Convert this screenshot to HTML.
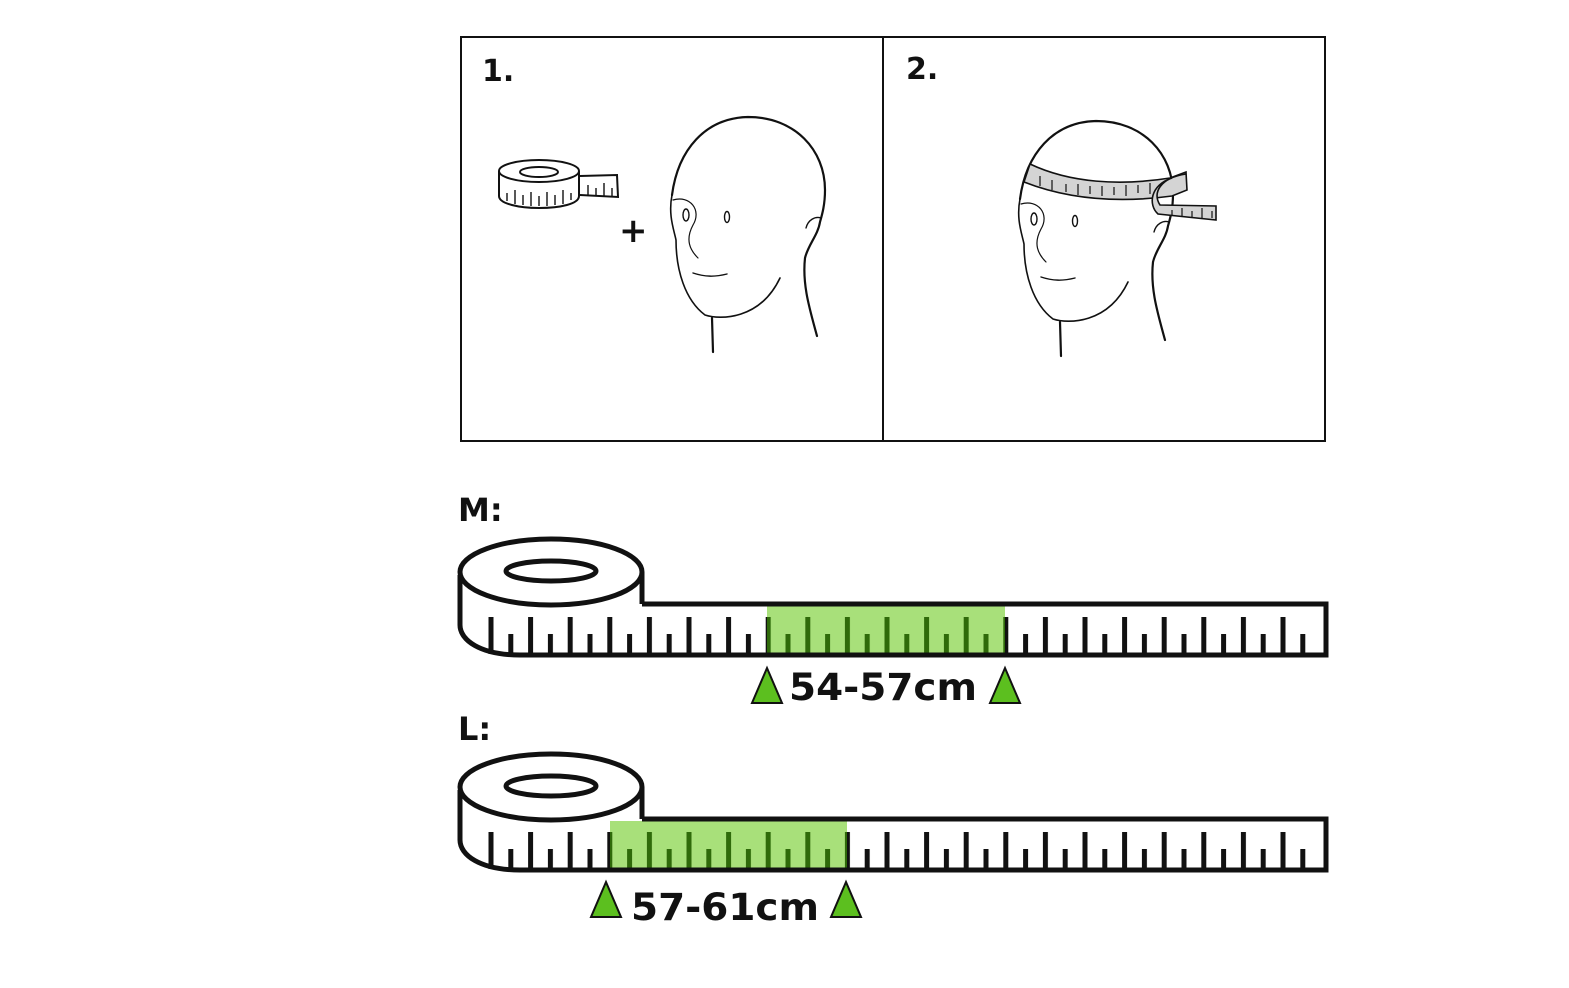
<!DOCTYPE html>
<html><head><style>
html,body{margin:0;padding:0;background:#fff;}
svg{display:block;}
text{font-family:"DejaVu Sans","Liberation Sans",sans-serif;font-weight:bold;fill:#111;}
</style></head><body>
<svg width="1569" height="988" viewBox="0 0 1569 988" xmlns="http://www.w3.org/2000/svg">
<defs>
<g id="head" fill="none" stroke="#111" stroke-width="2.2" stroke-linecap="round">
  <path d="M672,195 C678,150 705,118 748,117 C795,117 825,150 825,190 C825,205 822,215 820,222 C818,235 808,245 805,258 C802,285 810,310 817,336"/>
  <path d="M672,195 C668,215 674,230 676,240 C676,270 685,300 705,315 C720,320 760,320 780,278" stroke-width="1.6"/>
  <path d="M712,318 L713,352"/>
  <path d="M673,200 C690,195 702,210 693,225 C685,240 690,250 698,258" stroke-width="1.2"/>
  <ellipse cx="686" cy="215" rx="3" ry="6" stroke-width="1.4"/>
  <ellipse cx="727" cy="217" rx="2.5" ry="5.5" stroke-width="1.4"/>
  <path d="M693,273 C705,277 715,277 727,274" stroke-width="1.4"/>
  <path d="M806,228 C808,220 815,216 821,218" stroke-width="1.4"/>
</g>
<pattern id="ticks" patternUnits="userSpaceOnUse" x="488.5" y="0" width="39.6" height="988">
  <rect x="0" y="617" width="5" height="37" fill="#111"/>
  <rect x="19.8" y="634" width="5" height="20" fill="#111"/>
</pattern>
<pattern id="ticksG" patternUnits="userSpaceOnUse" x="488.5" y="0" width="39.6" height="988">
  <rect x="0" y="617" width="5" height="37" fill="#2f6a0a"/>
  <rect x="19.8" y="634" width="5" height="20" fill="#2f6a0a"/>
</pattern>
<pattern id="ticksL" patternUnits="userSpaceOnUse" x="488.5" y="0" width="39.6" height="988">
  <rect x="0" y="832" width="5" height="37" fill="#111"/>
  <rect x="19.8" y="849" width="5" height="20" fill="#111"/>
</pattern>
<pattern id="ticksLG" patternUnits="userSpaceOnUse" x="488.5" y="0" width="39.6" height="988">
  <rect x="0" y="832" width="5" height="37" fill="#2f6a0a"/>
  <rect x="19.8" y="849" width="5" height="20" fill="#2f6a0a"/>
</pattern>
</defs>

<rect x="461" y="37" width="864" height="404" fill="none" stroke="#111" stroke-width="2"/>
<line x1="883" y1="37" x2="883" y2="441" stroke="#111" stroke-width="2"/>
<text x="482" y="81" font-size="30">1.</text>
<text x="906" y="79" font-size="30">2.</text>

<g fill="none" stroke="#111" stroke-width="2">
  <path d="M580,176 L617,175 L618,197 L580,195"/>
  <ellipse cx="539" cy="171" rx="40" ry="11" fill="#fff"/>
  <ellipse cx="539" cy="172" rx="19" ry="5"/>
  <path d="M499,171 L499,196 C499,204 520,208 539,208 C560,208 579,204 579,196 L579,171"/>
</g>
<g stroke="#111" stroke-width="1.4">
  <line x1="507" y1="193" x2="507" y2="201"/><line x1="515" y1="190" x2="515" y2="204"/><line x1="523" y1="195" x2="523" y2="205"/><line x1="531" y1="192" x2="531" y2="206"/><line x1="539" y1="196" x2="539" y2="206"/><line x1="547" y1="192" x2="547" y2="206"/><line x1="555" y1="195" x2="555" y2="205"/><line x1="563" y1="190" x2="563" y2="204"/><line x1="571" y1="193" x2="571" y2="200"/>
  <line x1="588" y1="185" x2="588" y2="196"/><line x1="596" y1="188" x2="596" y2="196"/><line x1="604" y1="183" x2="604" y2="196"/><line x1="612" y1="188" x2="612" y2="196"/>
</g>
<text x="619" y="242" font-size="34">+</text>

<use href="#head"/>
<use href="#head" transform="translate(348,4)"/>

<g stroke="#111" stroke-width="1.6">
  <path d="M1030,164 C1070,183 1120,186 1170,178 L1186,172 L1187,190 L1172,196 C1120,203 1070,200 1024,182 Z" fill="#d4d4d4"/>
  <path d="M1186,174 C1160,178 1152,193 1160,205 L1216,206 L1216,220 L1158,214 C1148,205 1150,185 1172,178" fill="#d4d4d4"/>
  <g stroke-width="1.2">
    <line x1="1040" y1="176" x2="1040" y2="186"/><line x1="1052" y1="180" x2="1052" y2="190"/><line x1="1066" y1="184" x2="1066" y2="192"/><line x1="1078" y1="184" x2="1078" y2="195"/><line x1="1090" y1="186" x2="1090" y2="194"/><line x1="1102" y1="186" x2="1102" y2="196"/><line x1="1114" y1="187" x2="1114" y2="195"/><line x1="1126" y1="185" x2="1126" y2="196"/><line x1="1138" y1="185" x2="1138" y2="193"/><line x1="1150" y1="183" x2="1150" y2="194"/>
    <line x1="1172" y1="210" x2="1172" y2="216"/><line x1="1182" y1="208" x2="1182" y2="217"/><line x1="1192" y1="211" x2="1192" y2="218"/><line x1="1202" y1="208" x2="1202" y2="218"/><line x1="1212" y1="211" x2="1212" y2="218"/>
  </g>
</g>

<text x="458" y="521" font-size="32">M:</text>
<text x="458" y="740" font-size="32">L:</text>

<!-- Tape M -->
<rect x="767" y="606" width="238" height="48" fill="#a8e07a"/>
<rect x="480" y="610" width="832" height="44" fill="url(#ticks)"/>
<rect x="767" y="610" width="238" height="44" fill="#a8e07a"/>
<rect x="767" y="610" width="238" height="44" fill="url(#ticksG)"/>
<g fill="none" stroke="#111" stroke-width="5">
  <path d="M642,604 L1326,604 L1326,655 L520,655 C480,655 460,640 460,625 L460,575"/>
  <ellipse cx="551" cy="572" rx="91" ry="33" fill="#fff"/>
  <ellipse cx="551" cy="571" rx="45" ry="10"/>
  <line x1="642" y1="572" x2="642" y2="604"/>
</g>
<polygon points="752,703 767,668 782,703" fill="#5cbf1f" stroke="#111" stroke-width="2"/>
<polygon points="990,703 1005,668 1020,703" fill="#5cbf1f" stroke="#111" stroke-width="2"/>
<text x="789" y="700" font-size="37" textLength="188" lengthAdjust="spacingAndGlyphs">54-57cm</text>

<!-- Tape L -->
<rect x="610" y="821" width="237" height="48" fill="#a8e07a"/>
<rect x="480" y="825" width="832" height="44" fill="url(#ticksL)"/>
<rect x="610" y="825" width="237" height="44" fill="#a8e07a"/>
<rect x="610" y="825" width="237" height="44" fill="url(#ticksLG)"/>
<g fill="none" stroke="#111" stroke-width="5">
  <path d="M642,819 L1326,819 L1326,870 L520,870 C480,870 460,855 460,840 L460,790"/>
  <ellipse cx="551" cy="787" rx="91" ry="33" fill="#fff"/>
  <ellipse cx="551" cy="786" rx="45" ry="10"/>
  <line x1="642" y1="787" x2="642" y2="819"/>
</g>
<polygon points="591,917 606,882 621,917" fill="#5cbf1f" stroke="#111" stroke-width="2"/>
<polygon points="831,917 846,882 861,917" fill="#5cbf1f" stroke="#111" stroke-width="2"/>
<text x="631" y="920" font-size="37" textLength="188" lengthAdjust="spacingAndGlyphs">57-61cm</text>
</svg>
</body></html>
